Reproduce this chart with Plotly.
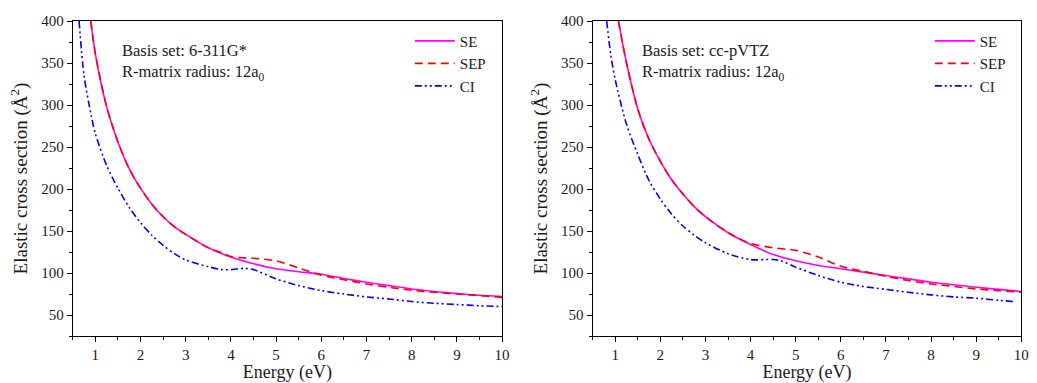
import plotly.graph_objects as go

# ---- data ----
# Left panel: basis set 6-311G*
e_se_l = [0.90, 1.0, 1.25, 1.5, 1.75, 2.0, 2.25, 2.5, 2.75, 3.0, 3.5, 4.0, 4.5, 5.0, 5.5, 6.0, 6.5, 7.0, 7.5, 8.0, 8.5, 9.0, 9.5, 10.0]
se_l   = [400, 361, 298, 256, 224, 201, 182, 167, 155, 146, 130, 119, 111, 105, 101.5, 98.5, 93.5, 89, 85, 81, 78, 75.5, 73.5, 72]
e_sep_l = [0.90, 1.0, 1.25, 1.5, 1.75, 2.0, 2.25, 2.5, 2.75, 3.0, 3.5, 3.8, 4.0, 4.5, 5.0, 5.5, 6.0, 6.5, 7.0, 7.5, 8.0, 8.5, 9.0, 9.5, 10.0]
sep_l   = [400, 361, 298, 256, 224, 201, 182, 167, 155, 146, 130, 124, 119.5, 117.5, 114.5, 106, 97.5, 92, 87, 83, 79.5, 77, 75, 73, 71]
e_ci_l = [0.64, 0.75, 0.9, 1.0, 1.25, 1.5, 1.75, 2.0, 2.25, 2.5, 2.75, 3.0, 3.5, 3.8, 4.0, 4.3, 4.5, 5.0, 5.5, 6.0, 6.5, 7.0, 7.5, 8.0, 8.5, 9.0, 9.5, 10.0]
ci_l   = [400, 335, 290, 266, 228, 201, 178, 160, 145, 133, 123, 115.5, 107.5, 104, 104, 105.5, 104, 93, 85, 79, 75, 71.5, 69, 66, 64, 62.5, 61, 60]

# Right panel: basis set cc-pVTZ
e_se_r = [1.07, 1.25, 1.5, 1.75, 2.0, 2.25, 2.5, 2.75, 3.0, 3.5, 4.0, 4.5, 5.0, 5.5, 6.0, 6.5, 7.0, 7.5, 8.0, 8.5, 9.0, 9.5, 10.0]
se_r   = [400, 350, 295, 259, 233, 211, 194, 179, 167, 148, 134, 122, 114.5, 109, 105, 101, 97, 93, 89, 86, 83, 80.5, 78]
e_sep_r = [1.07, 1.25, 1.5, 1.75, 2.0, 2.25, 2.5, 2.75, 3.0, 3.5, 3.9, 4.0, 4.5, 5.0, 5.5, 6.0, 6.5, 7.0, 7.5, 8.0, 8.5, 9.0, 9.5, 10.0]
sep_r   = [400, 350, 295, 259, 233, 211, 194, 179, 167, 148, 137, 135, 130, 127, 119, 108, 102, 96, 91, 87, 84, 81, 79, 77]
e_ci_r = [0.81, 0.9, 1.0, 1.25, 1.5, 1.75, 2.0, 2.25, 2.5, 2.75, 3.0, 3.5, 4.0, 4.5, 4.7, 5.0, 5.5, 6.0, 6.5, 7.0, 7.5, 8.0, 8.5, 9.0, 9.5, 9.83]
ci_r   = [400, 360, 330, 277, 241, 210, 188, 170, 156, 145, 136, 123, 116, 116, 114, 107, 97, 89, 84, 80.5, 77, 74, 71.5, 70, 67.5, 66]

x_ticks = [1, 2, 3, 4, 5, 6, 7, 8, 9, 10]
y_ticks = [50, 100, 150, 200, 250, 300, 350, 400]
series_names = ["SE", "SEP", "CI"]
panel_texts = ["Basis set: 6-311G*<br>R-matrix radius: 12a<sub>0</sub>",
               "Basis set: cc-pVTZ<br>R-matrix radius: 12a<sub>0</sub>"]

FONT = "Liberation Serif"
TXT = "#1a1a1a"
styles = [dict(color="#FF00FF", width=1.6, dash="solid"),
          dict(color="#FF0000", width=1.6, dash="8px,5px"),
          dict(color="#0000FF", width=1.6, dash="7px,3px,2px,3px,2px,3px")]

fig = go.Figure()
panels = [
    ("x", "y", "legend", [(e_se_l, se_l), (e_sep_l, sep_l), (e_ci_l, ci_l)]),
    ("x2", "y2", "legend2", [(e_se_r, se_r), (e_sep_r, sep_r), (e_ci_r, ci_r)]),
]
for xa, ya, lg, data in panels:
    for (ex, vy), name, st in zip(data, series_names, styles):
        fig.add_trace(go.Scatter(x=ex, y=vy, mode="lines", name=name,
                                 line=dict(shape="spline", smoothing=0.8, **st),
                                 xaxis=xa, yaxis=ya, legend=lg, cliponaxis=True))

ax_common = dict(showline=True, linecolor="black", linewidth=1.2, mirror=True,
                 ticks="outside", ticklen=5, tickwidth=1, tickcolor="black",
                 showgrid=False, zeroline=False,
                 tickfont=dict(family=FONT, size=15, color=TXT),
                 minor=dict(ticks="outside", ticklen=3, tickwidth=1, tickcolor="black"))

xdom = [[73.3 / 1037, 506 / 1037], [597.3 / 1037, 1029.3 / 1037]]
ydom = [1 - 335 / 383, 1 - 13.3 / 383]

layout = dict(
    width=1037, height=383, margin=dict(l=0, r=0, t=0, b=0),
    paper_bgcolor="white", plot_bgcolor="white",
    font=dict(family=FONT, color=TXT),
)
for i, (xk, yk) in enumerate([("xaxis", "yaxis"), ("xaxis2", "yaxis2")]):
    layout[xk] = dict(ax_common, domain=xdom[i], range=[0.5, 10], tickvals=x_ticks,
                      anchor="y" if i == 0 else "y2",
                      minor=dict(ax_common["minor"], dtick=0.5, tick0=0.5),
                      title=dict(text="Energy (eV)", font=dict(family=FONT, size=18, color=TXT), standoff=3))
    layout[yk] = dict(ax_common, domain=ydom, range=[25, 400], tickvals=y_ticks,
                      anchor="x" if i == 0 else "x2",
                      minor=dict(ax_common["minor"], dtick=25, tick0=0),
                      title=dict(text="Elastic cross section (Å<sup>2</sup>)",
                                 font=dict(family=FONT, size=19, color=TXT), standoff=8))

leg_common = dict(font=dict(family=FONT, size=15, color=TXT), bgcolor="rgba(0,0,0,0)",
                  itemwidth=40, tracegroupgap=0, xanchor="left", yanchor="top")
layout["legend"] = dict(leg_common, x=413 / 1037, y=1 - 17 / 383)
layout["legend2"] = dict(leg_common, x=937 / 1037, y=1 - 17 / 383)

fig.update_layout(**layout)

ann_x = [121 / 1037, 645 / 1037]
for i, t in enumerate(panel_texts):
    fig.add_annotation(x=ann_x[i], y=1 - 32 / 383, xref="paper", yref="paper",
                       xanchor="left", yanchor="top", align="left", showarrow=False,
                       text=t, font=dict(family=FONT, size=16.5, color=TXT))

fig.write_html("out.html")
